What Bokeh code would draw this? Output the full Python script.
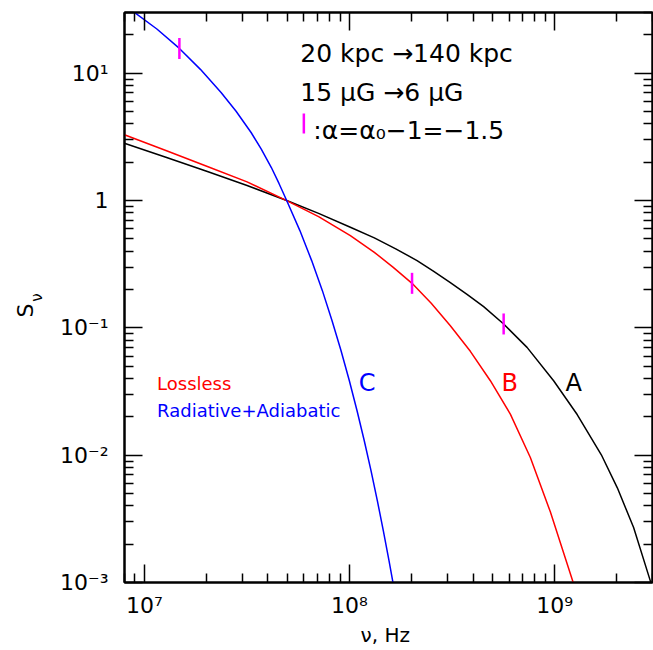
import numpy as np
from bokeh.plotting import figure
from bokeh.models import LogAxis, FixedTicker, CustomJSTickFormatter, Label, Range1d, Title
from bokeh.embed import file_html
from bokeh.resources import INLINE

# ---------------- data ----------------
# Curve A: lossless, black
a_nu = [7.990e6, 1.2727e7, 2.0283e7, 3.1667e7, 4.9397e7, 7.0668e7, 1.0096e8, 1.3214e8,
        1.6804e8, 2.1346e8, 2.5740e8, 3.1016e8, 3.7411e8, 4.5077e8, 5.6428e8,
        7.3367e8, 9.8885e8, 1.2903e9, 1.6890e9, 2.0214e9, 2.4268e9, 2.9275e9, 2.9940e9]
a_s = [2.8212, 2.1903, 1.6903, 1.3142, 1.0, 0.79320, 0.61672, 0.50880,
       0.41794, 0.33749, 0.27802, 0.22666, 0.18340, 0.14678, 0.10731,
       0.070276, 0.03845, 0.020774, 0.010072, 0.005541, 0.0027016, 0.0010294, 0.00090049]
# Curve B: lossless, red
b_nu = [7.990e6, 1.2727e7, 2.0283e7, 3.1667e7, 4.9397e7, 7.0668e7, 1.0096e8, 1.3214e8,
        1.6340e8, 2.0177e8, 2.5028e8, 3.1016e8, 3.8826e8, 4.8600e8, 6.0826e8,
        7.6138e8, 9.5290e8, 1.2294e9, 1.2545e9]
b_s = [3.286, 2.4760, 1.8508, 1.4029, 1.0, 0.74849, 0.5306, 0.39227,
       0.29843, 0.22380, 0.15610, 0.10406, 0.06546, 0.03845, 0.02103,
       0.009592, 0.003589, 0.001011, 0.0009069]
# Curve C: radiative + adiabatic, blue
c_nu = [8.356e6, 8.939e6, 1.1506e7, 1.4815e7, 1.8752e7, 2.3651e7, 2.7993e7, 3.3130e7,
        3.714e7, 4.159e7, 4.531e7, 4.9397e7, 5.729e7, 6.539e7, 7.375e7, 8.221e7,
        9.095e7, 9.983e7, 1.0884e8, 1.1803e8, 1.2737e8, 1.3674e8, 1.4622e8,
        1.5587e8, 1.6267e8, 1.6711e8]
c_s = [32.79, 30.06, 22.26, 15.67, 10.73, 7.065, 5.026, 3.424,
       2.536, 1.817, 1.3628, 1.0, 0.5808, 0.3375, 0.19608, 0.11391,
       0.06617, 0.03845, 0.02234, 0.012979, 0.007541, 0.004381, 0.002545,
       0.001478, 0.001011, 0.0007845]
# magenta markers where alpha = alpha0 - 1
m_nu = [1.4815e7, 2.0177e8, 5.6428e8]
m_s = [15.67, 0.2238, 0.10731]

# axis ticks
x_major = [1e7, 1e8, 1e9]
x_labels = ["10\u2077", "10\u2078", "10\u2079"]
y_major = [1e-3, 1e-2, 1e-1, 1.0, 10.0]
y_labels = ["10\u207b\u00b3", "10\u207b\u00b2", "10\u207b\u00b9", "1", "10\u00b9"]

x_minor = [k * 10.0 ** d for d in range(6, 10) for k in range(2, 10)]
y_minor = [k * 10.0 ** d for d in range(-3, 2) for k in range(2, 10)]

FONT = "DejaVu Sans"

p = figure(width=653, height=650, x_axis_type="log", y_axis_type="log",
           x_range=Range1d(8e6, 3e9), y_range=Range1d(1e-3, 30),
           output_backend="svg", toolbar_location=None,
           min_border_left=124, min_border_right=1, min_border_top=12,
           min_border_bottom=68)
p.grid.visible = False
p.background_fill_color = "white"
p.border_fill_color = "white"
p.outline_line_color = "black"
p.outline_line_width = 2

fmt_code = """
for (let i = 0; i < vals.length; i++) {
  if (Math.abs(Math.log10(tick) - Math.log10(vals[i])) < 1e-6) return labs[i];
}
return "";
"""


def style_axis(ax, major, minor, labs, show):
    ax.ticker = FixedTicker(ticks=major, minor_ticks=minor)
    ax.major_tick_in = 18
    ax.major_tick_out = 0
    ax.minor_tick_in = 9
    ax.minor_tick_out = 0
    ax.axis_line_width = 2
    ax.axis_line_color = "black"
    ax.major_tick_line_width = 1.5
    ax.minor_tick_line_width = 1.5
    ax.major_tick_line_color = "black"
    ax.minor_tick_line_color = "black"
    if show:
        ax.formatter = CustomJSTickFormatter(args=dict(vals=major, labs=labs), code=fmt_code)
        ax.major_label_text_font = FONT
        ax.major_label_text_font_size = "22px"
        ax.major_label_text_color = "black"
    else:
        ax.formatter = CustomJSTickFormatter(code="return '';")
        ax.major_label_text_font_size = "1px"
        ax.major_label_standoff = 1


xa = p.xaxis[0]
style_axis(xa, x_major, x_minor, x_labels, True)
xa.major_label_standoff = 10
xa.axis_label = "\u03bd,  Hz"
xa.axis_label_text_font = FONT
xa.axis_label_text_font_size = "20px"
xa.axis_label_text_font_style = "normal"
xa.axis_label_text_color = "black"
xa.axis_label_standoff = 2

ya = p.yaxis[0]
style_axis(ya, y_major, y_minor, y_labels, True)
ya.major_label_standoff = 16
ya.axis_label = "\u03bd"
ya.axis_label_text_font = FONT
ya.axis_label_text_font_size = "15px"
ya.axis_label_text_font_style = "normal"
ya.axis_label_text_color = "black"
ya.axis_label_standoff = 11

top = LogAxis()
style_axis(top, x_major, x_minor, x_labels, False)
p.add_layout(top, "above")
right = LogAxis()
style_axis(right, y_major, y_minor, y_labels, False)
p.add_layout(right, "right")

# "S" of the y-axis title (its subscript nu is the axis label)
s_title = Title(text="S", align="left", offset=265, standoff=-24,
                text_font=FONT, text_font_size="22px", text_font_style="normal",
                text_color="black", vertical_align="bottom")
p.add_layout(s_title, "left")

# curves
p.line(a_nu, a_s, line_color="black", line_width=1.5)
p.line(b_nu, b_s, line_color="red", line_width=1.5)
p.line(c_nu, c_s, line_color="blue", line_width=1.5)
p.scatter(m_nu, m_s, marker="dash", angle=np.pi / 2, size=21,
          line_color="magenta", line_width=2.5)
p.scatter([5.99e7], [4.03], marker="dash", angle=np.pi / 2, size=20,
          line_color="magenta", line_width=2.5)


def lab(x, y, text, size, color="black", align="left"):
    p.add_layout(Label(x=x, y=y, text=text, text_font=FONT, text_font_size=size,
                       text_color=color, text_align=align,
                       text_baseline="alphabetic"))


lab(5.76e7, 14.39, "20 kpc \u2192140 kpc", "25px")
lab(5.76e7, 7.10, "15 \u03bcG \u21926 \u03bcG", "25px")
lab(6.665e7, 3.55, ":\u03b1=\u03b1\u2080\u22121=\u22121.5", "25px")

lab(1.153e7, 0.03662, "Lossless", "18px", "red")
lab(1.153e7, 0.02234, "Radiative+Adiabatic", "18px", "blue")
lab(1.218e8, 0.03662, "C", "24px", "blue", "center")
lab(6.036e8, 0.03662, "B", "24px", "red", "center")
lab(1.238e9, 0.03662, "A", "24px", "black", "center")

open("out.html", "w").write(file_html(p, INLINE))
